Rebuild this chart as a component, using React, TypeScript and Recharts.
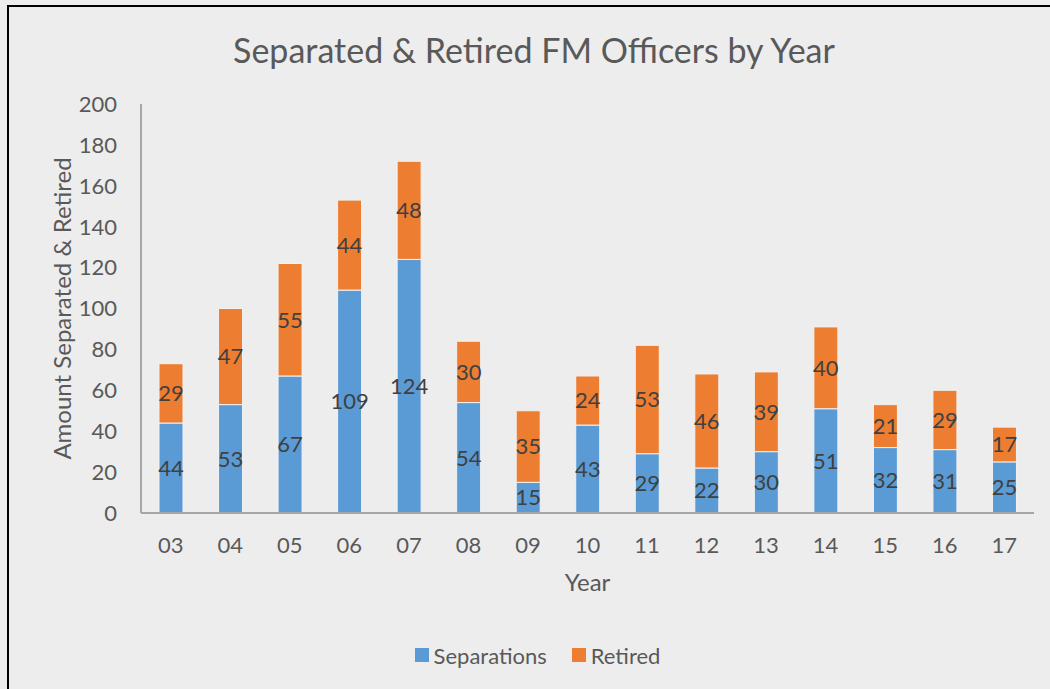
import { Bar, BarChart, LabelList, Legend, XAxis, YAxis } from 'recharts';

const years = ['03', '04', '05', '06', '07', '08', '09', '10', '11', '12', '13', '14', '15', '16', '17'];
const separations = [44, 53, 67, 109, 124, 54, 15, 43, 29, 22, 30, 51, 32, 31, 25];
const retired = [29, 47, 55, 44, 48, 30, 35, 24, 53, 46, 39, 40, 21, 29, 17];
const yTicks = [0, 20, 40, 60, 80, 100, 120, 140, 160, 180, 200];

const BLUE = '#5b9bd5';
const ORANGE = '#ed7d31';
const TEXT = '#595959';
const FONT = 'Lato, "Open Sans", sans-serif';

const rows = years.map((y, i) => ({ year: y, separations: separations[i], retired: retired[i] }));

function LegendBox() {
  const items = [
    { label: 'Separations', color: BLUE },
    { label: 'Retired', color: ORANGE },
  ];
  return (
    <div style={{ height: 30, display: 'flex', justifyContent: 'center', alignItems: 'center', gap: 25, paddingLeft: 0 }}>
      {items.map((it) => (
        <div key={it.label} style={{ display: 'flex', alignItems: 'center', gap: 5 }}>
          <span style={{ width: 14, height: 14, background: it.color, display: 'inline-block' }} />
          <span style={{ fontFamily: FONT, fontSize: 22, color: TEXT }}>{it.label}</span>
        </div>
      ))}
    </div>
  );
}

export default function App() {
  return (
    <div style={{ position: 'absolute', left: 0, top: 0, width: 1050, height: 689, background: '#ededed', overflow: 'hidden' }}>
      <div
        style={{
          position: 'absolute',
          left: 7,
          top: 5,
          width: 1100,
          height: 800,
          borderTop: '2px solid #000',
          borderLeft: '2px solid #000',
        }}
      />
      <div
        style={{
          position: 'absolute',
          top: 29,
          left: 0,
          width: 1068,
          textAlign: 'center',
          fontFamily: FONT,
          fontSize: 34,
          color: TEXT,
          lineHeight: '42px',
        }}
      >
        Separated &amp; Retired FM Officers by Year
      </div>
      <div style={{ position: 'absolute', left: 0, top: 0 }}>
        <BarChart
          width={1050}
          height={689}
          data={rows}
          margin={{ top: 104, right: 16, left: 41, bottom: 19 }}
          barSize={24}
        >
          <XAxis
            dataKey="year"
            height={127}
            tickLine={false}
            tickSize={0}
            tickMargin={24}
            stroke="#a6a6a6"
            strokeWidth={2}
            tick={{ fill: TEXT, fontSize: 22, fontFamily: FONT }}
            label={{ value: 'Year', position: 'insideTop', offset: 61, fill: TEXT, fontSize: 24, fontFamily: FONT }}
          />
          <YAxis
            width={100}
            domain={[0, 200]}
            ticks={yTicks}
            interval={0}
            tickLine={false}
            tickSize={0}
            tickMargin={24}
            stroke="#a6a6a6"
            strokeWidth={2}
            tick={{ fill: TEXT, fontSize: 22, fontFamily: FONT }}
            label={{
              value: 'Amount Separated & Retired',
              angle: -90,
              position: 'insideLeft',
              offset: 21,
              fill: TEXT,
              fontSize: 24,
              fontFamily: FONT,
              style: { textAnchor: 'middle' },
            }}
          />
          <Legend verticalAlign="bottom" content={() => <LegendBox />} />
          <Bar dataKey="separations" name="Separations" stackId="a" fill={BLUE} stroke="#f2f2f2" strokeWidth={1} isAnimationActive={false}>
            <LabelList dataKey="separations" position="center" fill="#404040" fontSize={22} fontFamily={FONT} />
          </Bar>
          <Bar dataKey="retired" name="Retired" stackId="a" fill={ORANGE} stroke="#f2f2f2" strokeWidth={1} isAnimationActive={false}>
            <LabelList dataKey="retired" position="center" fill="#404040" fontSize={22} fontFamily={FONT} />
          </Bar>
        </BarChart>
      </div>
    </div>
  );
}
